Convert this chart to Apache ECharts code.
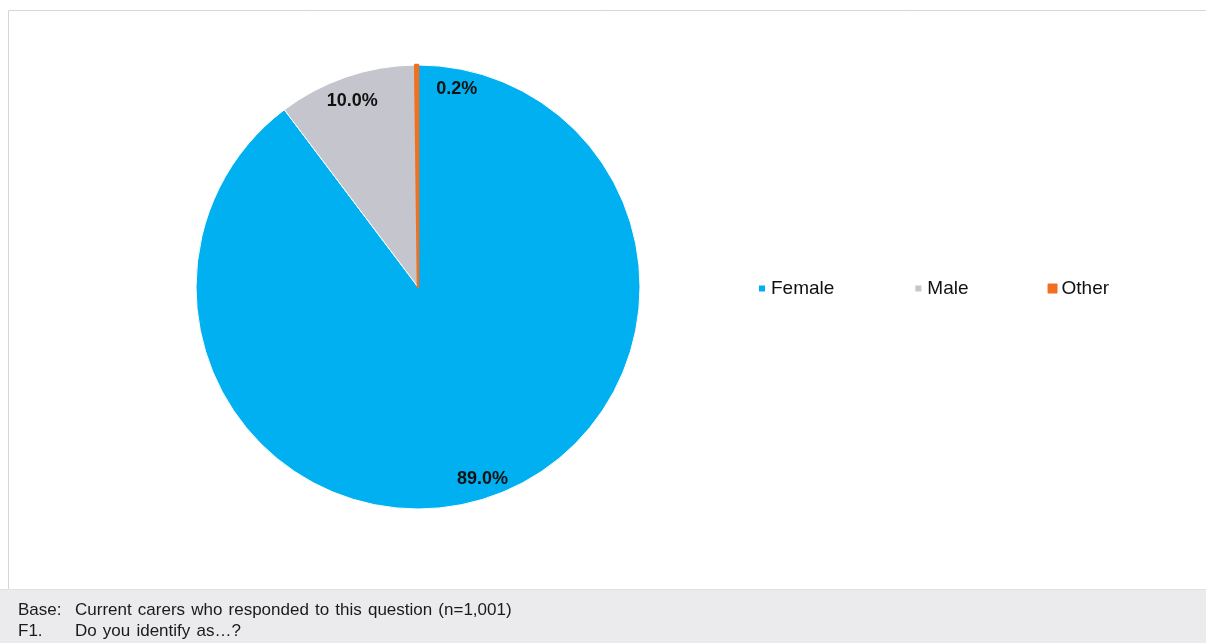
<!DOCTYPE html>
<html>
<head>
<meta charset="utf-8">
<script src="https://cdn.jsdelivr.net/npm/echarts@6/dist/echarts.min.js"></script>
<style>
html,body{margin:0;padding:0;background:#fff;}
#main{width:1206px;height:643px;}
</style>
</head>
<body>
<div id="main"></div>
<script>
const categories = ['Female', 'Male', 'Other'];
const values = [89.0, 10.0, 0.2];
const colors = ['#00b0f0', '#c5c5cd', '#f07020'];
const footerLines = [
  ['Base:', 'Current carers who responded to this question (n=1,001)'],
  ['F1.', 'Do you identify as\u2026?']
];

const FONT = '"Liberation Sans", Arial, Helvetica, sans-serif';
const chart = echarts.init(document.getElementById('main'), null, {renderer: 'canvas'});

const pieData = categories.map((c, i) => {
  const d = {name: c, value: values[i], itemStyle: {color: colors[i]}};
  if (c === 'Other') d.itemStyle = {color: colors[i], borderColor: colors[i], borderWidth: 2.5};
  return d;
});
const labelOffsets = {Female: [0, 0], Male: [0, 6], Other: [40, 5]};
const labelData = categories.map((c, i) => ({name: c, value: values[i], label: {offset: labelOffsets[c]}}));

const footerGraphics = [];
footerLines.forEach((ln, i) => {
  const y = 612 + i * 21;
  footerGraphics.push({type: 'text', left: 18, top: y - 10, style: {text: ln[0], fill: '#1a1a1a', font: '17px ' + FONT}});
  footerGraphics.push({type: 'text', left: 75, top: y - 10, style: {text: ln[1].replace(/ /g, '\u00a0 ').replace(/\u00a0 /g, ' \u200a'), fill: '#1a1a1a', font: '17px ' + FONT}});
});

chart.setOption({
  animation: false,
  backgroundColor: '#ffffff',
  graphic: [
    {type: 'rect', shape: {x: 8.5, y: 10.5, width: 1210, height: 600}, style: {fill: 'none', stroke: '#d6d6d6', lineWidth: 1}, z: -1},
    {type: 'rect', shape: {x: 0, y: 589, width: 1206, height: 54}, style: {fill: '#ebebed'}, z: 0},
    {type: 'rect', shape: {x: 0, y: 589, width: 1206, height: 1}, style: {fill: '#e2e2e4'}, z: 0}
  ].concat(footerGraphics),
  legend: {
    data: categories,
    left: 757,
    top: 279,
    padding: 0,
    orient: 'horizontal',
    icon: 'rect',
    itemWidth: 8,
    itemHeight: 8,
    itemGap: 79,
    textStyle: {fontSize: 19, color: '#111', fontFamily: FONT},
    selectedMode: false
  },
  series: [
    {
      type: 'pie',
      name: 'main',
      center: [418, 287],
      radius: [0, 222],
      startAngle: 90,
      clockwise: true,
      silent: true,
      label: {show: false},
      labelLine: {show: false},
      itemStyle: {borderColor: '#ffffff', borderWidth: 1},
      emphasis: {disabled: true},
      data: pieData
    },
    {
      type: 'pie',
      name: 'labels',
      center: [418, 287],
      radius: [178, 222],
      startAngle: 90,
      clockwise: true,
      silent: true,
      z: 3,
      itemStyle: {color: 'rgba(0,0,0,0)', borderWidth: 0},
      emphasis: {disabled: true},
      labelLine: {show: false},
      label: {
        show: true,
        position: 'inside',
        formatter: p => p.value.toFixed(1) + '%',
        fontSize: 18,
        fontWeight: 'bold',
        color: '#111',
        fontFamily: FONT
      },
      data: labelData
    }
  ]
});
</script>
</body>
</html>
